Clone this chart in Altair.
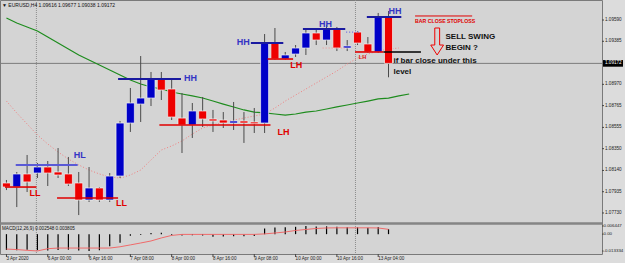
import altair as alt
import pandas as pd

# ---------------- data ----------------
bar_index = list(range(38))
open_ = [1.08019, 1.07980, 1.08106, 1.08115, 1.08173, 1.08125, 1.08106, 1.08019, 1.07855, 1.07971,
         1.07855, 1.08086, 1.08597, 1.08780, 1.08838, 1.09022, 1.08925, 1.08645, 1.08578, 1.08713,
         1.08636, 1.08626, 1.08597, 1.08617, 1.08607, 1.08597, 1.09368, 1.09214, 1.09262, 1.09320,
         1.09465, 1.09397, 1.09503, 1.09320, 1.09474, 1.09359, 1.09282, 1.09616]
high = [1.08048, 1.08125, 1.08289, 1.08212, 1.08231, 1.08356, 1.08270, 1.08125, 1.08173, 1.07980,
        1.08115, 1.08617, 1.08935, 1.09243, 1.09089, 1.09089, 1.09012, 1.08886, 1.08790, 1.08848,
        1.08723, 1.08703, 1.08800, 1.08703, 1.08742, 1.09455, 1.09513, 1.09282, 1.09349, 1.09503,
        1.09503, 1.09542, 1.09523, 1.09397, 1.09484, 1.09426, 1.09658, 1.09677]
low = [1.07951, 1.07787, 1.07932, 1.08067, 1.07990, 1.08067, 1.07990, 1.07710, 1.07836, 1.07836,
       1.07836, 1.08067, 1.08511, 1.08607, 1.08761, 1.08819, 1.08626, 1.08308, 1.08453, 1.08559,
       1.08511, 1.08549, 1.08530, 1.08405, 1.08501, 1.08501, 1.09205, 1.09205, 1.09234, 1.09253,
       1.09349, 1.09349, 1.09291, 1.09291, 1.09349, 1.09272, 1.09272, 1.09038]
close = [1.07980, 1.08106, 1.08029, 1.08173, 1.08115, 1.08096, 1.08009, 1.07855, 1.07971, 1.07855,
         1.08086, 1.08597, 1.08790, 1.08838, 1.09022, 1.08915, 1.08655, 1.08578, 1.08713, 1.08636,
         1.08617, 1.08597, 1.08617, 1.08597, 1.08590, 1.09368, 1.09214, 1.09253, 1.09320, 1.09465,
         1.09397, 1.09503, 1.09320, 1.09340, 1.09368, 1.09282, 1.09619, 1.09172]

ma_slow = [1.09609, 1.09561, 1.09523, 1.09484, 1.09426, 1.09368, 1.09311, 1.09253, 1.09205, 1.09156,
           1.09108, 1.09060, 1.09012, 1.08973, 1.08944, 1.08925, 1.08896, 1.08877, 1.08858, 1.08838,
           1.08809, 1.08780, 1.08752, 1.08723, 1.08703, 1.08694, 1.08684, 1.08674, 1.08684, 1.08703,
           1.08713, 1.08732, 1.08752, 1.08771, 1.08790, 1.08809, 1.08829, 1.08838, 1.08858, 1.08877]
ma_fast = [1.08809, 1.08694, 1.08588, 1.08482, 1.08395, 1.08318, 1.08250, 1.08193, 1.08144, 1.08106,
           1.08077, 1.08067, 1.08096, 1.08144, 1.08241, 1.08337, 1.08376, 1.08424, 1.08491, 1.08549,
           1.08578, 1.08607, 1.08626, 1.08645, 1.08665, 1.08684, 1.08742, 1.08809, 1.08867, 1.08925,
           1.08983, 1.09041, 1.09099, 1.09166, 1.09224, 1.09262, 1.09291, 1.09311, 1.09320]

macd_hist = [-0.0125, -0.0128, -0.0124, -0.0127, -0.0130, -0.0126, -0.0123, -0.0129, -0.0133, -0.0127,
             -0.0095, -0.0068, -0.0012, -0.0006, 0.0010, 0.0012, -0.0008, -0.0010, -0.0009, -0.0011,
             -0.0020, -0.0019, -0.0016, -0.0017, -0.0015, 0.0045, 0.0052, 0.0054, 0.0058, 0.0064,
             0.0060, 0.0062, 0.0058, 0.0055, 0.0054, 0.0050, 0.0056, 0.0040]
macd_signal = [-0.0118, -0.0122, -0.0128, -0.0133, -0.0115, -0.0110, -0.0110, -0.0110, -0.0110, -0.0110,
               -0.0110, -0.0100, -0.0085, -0.0070, -0.0054, -0.0030, -0.0010, -0.0002, -0.0002, -0.0002,
               -0.0002, -0.0002, -0.0002, -0.0002, -0.0002, 0.0002, 0.0009, 0.0017, 0.0029, 0.0037,
               0.0045, 0.0049, 0.0050, 0.0050, 0.0050, 0.0050, 0.0049, 0.0038]

time_label_index = [0, 4, 8, 12, 16, 20, 24, 28, 32, 36]
time_labels = ["3 Apr 2020", "6 Apr 00:00", "6 Apr 16:00", "7 Apr 08:00", "8 Apr 00:00",
               "8 Apr 16:00", "9 Apr 08:00", "10 Apr 00:00", "10 Apr 16:00", "13 Apr 04:00"]
price_ticks = [1.09590, 1.09385, 1.08970, 1.08765, 1.08555, 1.08350, 1.08140, 1.07935, 1.07730]
last_price = 1.09172
macd_ticks = [0.006447, 0.0, -0.013334]
macd_tick_labels = ["0.006447", "0.00", "-0.013334"]
separators = [2.9, 33.8]

# annotation levels (bar-index start, bar-index end, price)
blue_x1 = [10.81, 23.67, 28.71, 34.90]
blue_x2 = [16.90, 26.81, 32.81, 38.24]
blue_y = [1.09022, 1.09368, 1.09503, 1.09619]
hl_x1, hl_x2, hl_y = [0.90], [6.90], [1.08192]
red_x1 = [-0.14, 4.90, 14.81, 25.29, 33.76]
red_x2 = [2.90, 10.81, 25.57, 27.76, 36.52]
red_y = [1.07980, 1.07874, 1.08578, 1.09214, 1.09282]
black_x1, black_x2, black_y = [36.52], [40.14], [1.09282]
bdot_x1, bdot_x2, bdot_y = [32.90], [34.14], [1.09474]
pdot_x1, pdot_x2, pdot_y = [30.62], [32.90], [1.09320]
stop_x1, stop_x2, stop_y = [39.57], [45.10], [1.09629]

blue_lbl_text = ["HL", "HH", "HH", "HH", "HH"]
blue_lbl_x = [6.52, 17.19, 23.57, 30.90, 37.00]
blue_lbl_y = [1.08289, 1.09031, 1.09378, 1.09552, 1.09677]
blue_lbl_align = ["left", "left", "right", "center", "left"]
red_lbl_text = ["LL", "LL", "LH", "LH"]
red_lbl_x = [2.24, 10.62, 26.24, 27.48]
red_lbl_y = [1.07923, 1.07826, 1.08511, 1.09156]
note_text = ["if bar close under this", "level", "SELL SWING", "BEGIN ?"]
note_x = [37.48, 37.48, 42.52, 42.52]
note_y = [1.09195, 1.09089, 1.09426, 1.09320]
arrow_x = [41.48, 41.95, 41.95, 42.33, 41.71, 41.09, 41.48, 41.48]
arrow_y = [1.09513, 1.09513, 1.09349, 1.09349, 1.09253, 1.09349, 1.09349, 1.09513]

BLUE = "#0000c8"
RED = "#ee0000"
FONT = "Liberation Sans"
AXFS = 4.6

# ---------------- scales ----------------
xs = alt.Scale(domain=[-0.14, 57.19], nice=False, zero=False)
ps = alt.Scale(domain=[1.07643, 1.09783], range=[222, 0], nice=False, zero=False)
ms = alt.Scale(domain=[-0.013334, 0.006447], range=[251, 226], nice=False, zero=False)


def X(f="i"):
    return alt.X(f + ":Q", scale=xs, axis=None)


def PY(f):
    return alt.Y(f + ":Q", scale=ps, axis=None)


def MY(f):
    return alt.Y(f + ":Q", scale=ms, axis=None)


candles = pd.DataFrame(dict(i=bar_index, open=open_, high=high, low=low, close=close))
mas_slow = pd.DataFrame(dict(i=list(range(len(ma_slow))), v=ma_slow))
mas_fast = pd.DataFrame(dict(i=list(range(len(ma_fast))), v=ma_fast))
macd = pd.DataFrame(dict(i=bar_index, hist=macd_hist, signal=macd_signal, zero=[0.0] * len(bar_index)))


def seg(x1, x2, y):
    return pd.DataFrame(dict(x1=x1, x2=x2, y=y))


def rules(df, color, width, dash=None):
    kw = dict(color=color, strokeWidth=width)
    if dash:
        kw["strokeDash"] = dash
    return alt.Chart(df).mark_rule(**kw).encode(x=X("x1"), x2="x2:Q", y=PY("y"))


def txt(df, color, size, align="left", weight="bold", font=FONT):
    return alt.Chart(df).mark_text(align=align, baseline="middle", font=font, fontWeight=weight,
                                   fontSize=size, color=color)


sep = alt.Chart(pd.DataFrame(dict(s=separators))).mark_rule(
    color="#8c8c8c", strokeDash=[1, 1], strokeWidth=1).encode(x=X("s"))
cur = alt.Chart(pd.DataFrame(dict(p=[last_price]))).mark_rule(color="#7c7c7c", strokeWidth=1).encode(
    y=PY("p"))
slow = alt.Chart(mas_slow).mark_line(color="#1e8c1e", strokeWidth=1.2).encode(x=X(), y=PY("v"))
fast = alt.Chart(mas_fast).mark_line(color="#f08080", strokeWidth=1, strokeDash=[1, 2]).encode(x=X(), y=PY("v"))
wicks = alt.Chart(candles).mark_rule(color="#4a4a4a", strokeWidth=1).encode(x=X(), y=PY("low"), y2="high:Q")
bodies = alt.Chart(candles).mark_bar(size=8, stroke="#f2f2f2", strokeWidth=0.7).encode(
    x=X(), y=PY("open"), y2="close:Q",
    fill=alt.condition("datum.close >= datum.open", alt.value(BLUE), alt.value(RED)))

lines = [
    rules(seg(hl_x1, hl_x2, hl_y), "#5a5ad6", 2),
    rules(seg(blue_x1, blue_x2, blue_y), "#1a1aa0", 2),
    rules(seg(red_x1, red_x2, red_y), "#e00000", 1.6),
    rules(seg(black_x1, black_x2, black_y), "#000000", 1.6),
    rules(seg(bdot_x1, bdot_x2, bdot_y), "#6a6ae0", 1.2, [1, 2]),
    rules(seg(pdot_x1, pdot_x2, pdot_y), "#f09090", 1, [1, 2]),
    rules(seg(stop_x1, stop_x2, stop_y), "#e00000", 1),
]

blue_lbl = pd.DataFrame(dict(x=blue_lbl_x, y=blue_lbl_y, t=blue_lbl_text, a=blue_lbl_align))
texts = []
for al in ["left", "right", "center"]:
    sub_df = blue_lbl[blue_lbl.a == al]
    texts.append(txt(sub_df, "#3434c4", 9, al).encode(x=X("x"), y=PY("y"), text="t:N"))
red_lbl = pd.DataFrame(dict(x=red_lbl_x, y=red_lbl_y, t=red_lbl_text))
texts.append(txt(red_lbl, "#e00000", 9).encode(x=X("x"), y=PY("y"), text="t:N"))
texts.append(txt(pd.DataFrame(dict(x=[34.48], y=[1.09234], t=["LH"])), "#e00000", 5.5, "center").encode(
    x=X("x"), y=PY("y"), text="t:N"))
notes = pd.DataFrame(dict(x=note_x, y=note_y, t=note_text))
texts.append(txt(notes, "#111111", 8).encode(x=X("x"), y=PY("y"), text="t:N"))
texts.append(txt(pd.DataFrame(dict(x=[39.57], y=[1.09581], t=["BAR CLOSE STOPLOSS"])), "#e00000", 5.2).encode(
    x=X("x"), y=PY("y"), text="t:N"))
arrow = alt.Chart(pd.DataFrame(dict(x=arrow_x, y=arrow_y, o=list(range(len(arrow_x)))))).mark_line(
    color="#ee0000", strokeWidth=1).encode(x=X("x"), y=PY("y"), order="o:Q")

# price axis (right side) drawn as ticks + labels through the price scale
pt = pd.DataFrame(dict(p=price_ticks, t=["%.5f" % v for v in price_ticks]))
p_ticks = alt.Chart(pt).mark_rule(color="#444444", strokeWidth=1).encode(
    x=alt.value(602), x2=alt.value(604), y=PY("p"))
p_labels = txt(pt, "#222222", AXFS, weight="normal").encode(x=alt.value(605), y=PY("p"), text="t:N")

box = alt.Chart(pd.DataFrame(dict(p=[last_price + 0.00032], p2=[last_price - 0.00032]))).mark_rect(
    color="#000000").encode(x=alt.value(603), x2=alt.value(623), y=PY("p"), y2="p2:Q")
box_txt = txt(pd.DataFrame(dict(p=[last_price], t=["%.5f" % last_price])), "#ffffff", AXFS,
              weight="normal").encode(x=alt.value(605), y=PY("p"), text="t:N")
header = txt(pd.DataFrame(dict(t=["\u25bc EURUSD,H4  1.09616 1.09677 1.09038 1.09172"])), "#111111", 5,
             weight="normal").encode(x=alt.value(2), y=alt.value(5), text="t:N")

# time axis (bottom) drawn as ticks + labels through the index scale
tl = pd.DataFrame(dict(i=time_label_index, t=time_labels))
t_ticks = alt.Chart(tl).mark_rule(color="#444444", strokeWidth=1).encode(
    x=X(), y=alt.value(254), y2=alt.value(257))
t_labels = txt(tl, "#222222", AXFS, weight="normal").encode(x=X(), y=alt.value(258.5), text="t:N")

main = alt.layer(cur, sep, slow, fast, wicks, bodies, *lines, arrow, *texts,
                 p_ticks, p_labels, box, box_txt, header, t_ticks, t_labels)

panel_sep = alt.Chart(pd.DataFrame(dict(a=[0]))).mark_rule(color="#858585", strokeWidth=2.5).encode(
    y=alt.value(223.5))
hist = alt.Chart(macd).mark_rule(color="#000000", strokeWidth=1.2).encode(x=X(), y=MY("hist"), y2="zero:Q")
sig = alt.Chart(macd).mark_line(color="#f06a6a", strokeWidth=1).encode(x=X(), y=MY("signal"))
macd_title = txt(pd.DataFrame(dict(t=["MACD(12,26,9) 0.002548 0.003805"])), "#111111", AXFS,
                 weight="normal").encode(x=alt.value(2), y=alt.value(229), text="t:N")
mt = pd.DataFrame(dict(v=macd_ticks, t=macd_tick_labels))
m_ticks = alt.Chart(mt).mark_rule(color="#444444", strokeWidth=1).encode(
    x=alt.value(602), x2=alt.value(603.5), y=MY("v"))
m_labels = txt(mt, "#222222", 4.4, weight="normal").encode(x=alt.value(603.5), y=MY("v"), text="t:N")
sub = alt.layer(panel_sep, hist, sig, macd_title, m_ticks, m_labels)

chart = alt.layer(main, sub).resolve_scale(y="independent").properties(
    width=602, height=254, padding={"left": 0, "top": 0, "right": 23, "bottom": 9},
    autosize=alt.AutoSizeParams(type="none"),
).configure(background="#dcdcdc").configure_view(fill="#d4d4d4", stroke="#7a7a7a", strokeWidth=1)

chart.save("out.html", embed_options={"renderer": "svg", "actions": False})
